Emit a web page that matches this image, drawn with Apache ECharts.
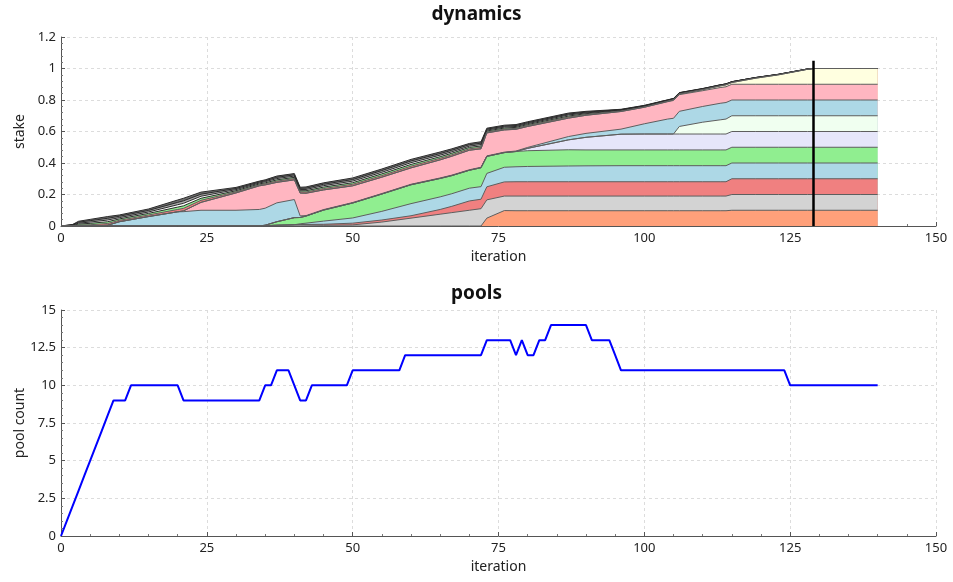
<!DOCTYPE html>
<html>
<head>
<meta charset="utf-8">
<title>dynamics / pools</title>
<script src="https://cdn.jsdelivr.net/npm/echarts@6/dist/echarts.min.js"></script>
<style>
  html, body { margin: 0; padding: 0; background: #fff; }
  #chart { width: 953px; height: 582px; }
</style>
</head>
<body>
<div id="chart"></div>
<script>
// sampled iterations for the stacked stake plot (all layers share them)
const iterations = [0, 2, 3, 5, 8, 10, 15, 20, 21, 24, 30, 34, 35, 37, 40, 41, 42, 45, 50, 55,
  60, 65, 67, 70, 72, 73, 76, 78, 80, 87, 90, 96, 100, 104, 105, 106, 110, 113, 114, 115,
  119, 123, 128, 129, 137, 138, 140];

// stake per pool, bottom of the stack first
const salmonPool = [0,0,0,0,0,0,0,0,0,0, 0,0,0,0,0,0,0,0,0,0, 0,0,0,0,0,0.05,0.098,0.097,0.097,0.097,
  0.097,0.097,0.097,0.097,0.097,0.097,0.097,0.097,0.097,0.1, 0.1,0.1,0.1,0.1,0.1,0.1,0.1];
const grayPool = [0,0,0,0,0,0,0,0,0,0, 0,0,0.002,0.005,0.008,0.008,0.007,0.005,0.007,0.025,
  0.05,0.075,0.085,0.1,0.11,0.116,0.092,0.093,0.093,0.093, 0.093,0.093,0.093,0.093,0.093,0.093,0.093,0.093,0.093,0.1,
  0.1,0.1,0.1,0.1,0.1,0.1,0.1];
const coralPool = [0,0,0,0,0,0,0,0,0,0, 0,0,0,0,0,0.001,0.003,0.006,0.011,0.013,
  0.015,0.03,0.04,0.059,0.06,0.083,0.09,0.091,0.091,0.091, 0.091,0.091,0.091,0.091,0.091,0.091,0.091,0.091,0.091,0.1,
  0.1,0.1,0.1,0.1,0.1,0.1,0.1];
const bluePoolB = [0,0,0,0,0,0,0,0,0,0, 0,0,0,0,0,0.005,0.008,0.02,0.033,0.055,
  0.077,0.08,0.08,0.081,0.08,0.085,0.093,0.095,0.097,0.1, 0.101,0.102,0.102,0.102,0.102,0.102,0.102,0.102,0.102,0.1,
  0.1,0.1,0.1,0.1,0.1,0.1,0.1];
const greenPool = [0,0,0,0,0,0,0,0,0,0, 0,0,0.003,0.022,0.045,0.04,0.045,0.07,0.095,0.11,
  0.12,0.117,0.115,0.114,0.12,0.108,0.093,0.097,0.1,0.103, 0.101,0.1,0.1,0.1,0.1,0.1,0.1,0.1,0.1,0.1,
  0.1,0.1,0.1,0.1,0.1,0.1,0.1];
const lavenderPool = [0,0,0,0,0,0,0,0,0,0, 0,0,0,0,0,0,0,0,0,0,
  0,0,0,0,0,0,0,0,0.015,0.063, 0.08,0.1,0.101,0.101,0.101,0.101,0.101,0.101,0.101,0.1,
  0.1,0.1,0.1,0.1,0.1,0.1,0.1];
const honeydewPool = [0,0,0,0,0,0,0,0,0,0, 0,0,0,0,0,0,0,0,0,0,
  0,0,0,0,0,0,0,0,0,0, 0,0,0,0,0,0.048,0.075,0.09,0.095,0.1,
  0.1,0.1,0.1,0.1,0.1,0.1,0.1];
const bluePoolA = [0,0,0,0,0.005,0.027,0.06,0.09,0.091,0.1, 0.1,0.105,0.108,0.12,0.115,0.01,0.003,0.003,0.003,0.003,
  0.003,0.003,0.003,0.003,0.003,0.003,0.003,0.003,0.006,0.021, 0.025,0.032,0.065,0.095,0.1,0.096,0.1,0.105,0.105,0.1,
  0.1,0.1,0.1,0.1,0.1,0.1,0.1];
const pinkPool = [0,0,0,0,0,0,0,0,0.005,0.05, 0.11,0.15,0.148,0.13,0.125,0.145,0.142,0.125,0.106,0.104,
  0.104,0.115,0.12,0.124,0.117,0.146,0.141,0.138,0.133,0.117, 0.115,0.112,0.105,0.11,0.113,0.106,0.1,0.1,0.1,0.1,
  0.1,0.1,0.1,0.1,0.1,0.1,0.1];
const yellowPool = [0,0,0,0,0,0,0,0,0,0, 0,0,0,0,0,0,0,0,0,0,
  0,0,0,0,0,0,0,0,0,0, 0,0,0,0.002,0.003,0.003,0.006,0.01,0.012,0.011,
  0.038,0.06,0.095,0.1,0.1,0.1,0.1];
// small short-lived pools forming the dark fringe on top
const fringeA = [0,0.002,0.006,0.008,0.011,0.009,0.01,0.015,0.016,0.013, 0.007,0.006,0.007,0.008,0.008,0.008,0.008,0.009,0.01,0.01,
  0.011,0.01,0.009,0.009,0.009,0.006,0.006,0.006,0.006,0.007, 0.005,0.003,0.002,0.002,0.002,0.002,0.001,0.001,0.001,0,
  0,0,0,0,0,0,0];
const fringeB = [0,0.002,0.006,0.009,0.011,0.009,0.01,0.015,0.016,0.013, 0.007,0.006,0.006,0.008,0.008,0.007,0.008,0.009,0.01,0.011,
  0.011,0.01,0.01,0.009,0.009,0.006,0.006,0.006,0.006,0.006, 0.005,0.004,0.004,0.004,0.004,0.004,0.004,0.004,0.004,0.004,
  0.004,0.003,0.002,0,0,0,0];
const fringeC = [0,0.002,0.006,0.008,0.011,0.008,0.009,0.015,0.016,0.013, 0.007,0.006,0.007,0.008,0.008,0.008,0.008,0.009,0.01,0.01,
  0.011,0.01,0.009,0.008,0.009,0.006,0.006,0.006,0.006,0.007, 0.005,0.003,0.002,0.002,0.002,0.002,0.001,0.001,0.001,0.001,
  0,0,0,0,0,0,0];
const fringeD = [0,0.002,0.006,0.009,0.011,0.009,0.01,0.015,0.016,0.013, 0.007,0.006,0.006,0.008,0.008,0.007,0.008,0.009,0.01,0.011,
  0.011,0.01,0.01,0.009,0.009,0.006,0.006,0.006,0.006,0.006, 0.005,0.002,0.002,0.001,0.001,0.001,0.001,0.001,0,0,
  0,0,0,0,0,0,0];
const fringeE = [0,0.002,0.006,0.008,0.011,0.008,0.009,0.015,0.016,0.013, 0.007,0.006,0.006,0.008,0.008,0.007,0.008,0.009,0.01,0.01,
  0.01,0.01,0.009,0.008,0.009,0.006,0.006,0.006,0.006,0.006, 0.005,0.002,0.002,0.001,0.001,0.001,0.001,0,0,0,
  0,0,0,0,0,0,0];

// equilibrium marker
const markerIter = [129, 129];
const markerStake = [0, 1.05];

// pool count per iteration 0..140
const poolCounts = [0,1,2,3,4,5,6,7,8,9, 9,9,10,10,10,10,10,10,10,10,
  10,9,9,9,9,9,9,9,9,9, 9,9,9,9,9,10,10,11,11,11,
  10,9,9,10,10,10,10,10,10,10, 11,11,11,11,11,11,11,11,11,12,
  12,12,12,12,12,12,12,12,12,12, 12,12,12,13,13,13,13,13,12,13,
  12,12,13,13,14,14,14,14,14,14, 14,13,13,13,13,12,11,11,11,11,
  11,11,11,11,11,11,11,11,11,11, 11,11,11,11,11,11,11,11,11,11,
  11,11,11,11,11,10,10,10,10,10, 10,10,10,10,10,10,10,10,10,10, 10];

const xTicks = { min: 0, max: 150, interval: 25 };
const FONT = "'Noto Sans', sans-serif";
const EDGE = '#5e5e5e';
const FRINGE_EDGE = '#2b2b2b';

const layers = [
  { data: salmonPool, color: '#FFA07A', edge: EDGE },
  { data: grayPool, color: '#D3D3D3', edge: EDGE },
  { data: coralPool, color: '#F08080', edge: EDGE },
  { data: bluePoolB, color: '#ADD8E6', edge: EDGE },
  { data: greenPool, color: '#90EE90', edge: EDGE },
  { data: lavenderPool, color: '#E6E6FA', edge: EDGE },
  { data: honeydewPool, color: '#F0FFF0', edge: EDGE },
  { data: bluePoolA, color: '#ADD8E6', edge: EDGE },
  { data: pinkPool, color: '#FFB6C1', edge: EDGE },
  { data: yellowPool, color: '#FFFFE0', edge: EDGE },
  { data: fringeA, color: '#F08080', edge: EDGE },
  { data: fringeB, color: '#90EE90', edge: FRINGE_EDGE },
  { data: fringeC, color: '#FFFFFF', edge: FRINGE_EDGE },
  { data: fringeD, color: '#A9A9A9', edge: FRINGE_EDGE },
  { data: fringeE, color: '#707070', edge: FRINGE_EDGE },
];

// running top of the stack under each layer (stacking by x value on a value axis is unreliable)
const stackTops = [];
layers.reduce((below, layer) => {
  const top = below.map((b, i) => b + layer.data[i]);
  stackTops.push(top);
  return top;
}, iterations.map(() => 0));

function xAxisFor(grid) {
  return {
    gridIndex: grid, type: 'value', min: xTicks.min, max: xTicks.max, interval: xTicks.interval,
    name: 'iteration', nameLocation: 'middle', nameGap: 24,
    nameTextStyle: { fontSize: 14, color: '#222', fontFamily: FONT },
    axisLine: { show: true, onZero: false, lineStyle: { color: '#555' } },
    axisTick: { show: true, inside: true, length: 4, lineStyle: { color: '#555' } },
    minorTick: { show: true, splitNumber: 5, length: 2, lineStyle: { color: '#777' } },
    axisLabel: { fontSize: 13, color: '#222', margin: 6, fontFamily: FONT },
    splitLine: { show: true, lineStyle: { color: '#dcdcdc', type: [3, 3] } },
  };
}

function yAxisFor(grid, name, max, interval) {
  return {
    gridIndex: grid, type: 'value', min: 0, max: max, interval: interval,
    name: name, nameLocation: 'middle', nameGap: 34, nameRotate: 90, nameMoveOverlap: false,
    nameTextStyle: { fontSize: 14, color: '#222', fontFamily: FONT },
    axisLine: { show: true, lineStyle: { color: '#555' } },
    axisTick: { show: true, inside: true, length: 4, lineStyle: { color: '#555' } },
    minorTick: { show: true, splitNumber: 5, length: 2, lineStyle: { color: '#777' } },
    axisLabel: { fontSize: 13, color: '#222', margin: 5, fontFamily: FONT },
    splitLine: { show: true, lineStyle: { color: '#dcdcdc', type: [3, 3] } },
  };
}

// paint the tallest layer first so every lower layer covers it down to zero
const stakeSeries = layers.map((layer, k) => ({
  type: 'line', xAxisIndex: 0, yAxisIndex: 0,
  symbol: 'none', silent: true,
  data: iterations.map((it, i) => [it, stackTops[k][i]]),
  lineStyle: { color: layer.edge, width: 1 },
  itemStyle: { color: layer.color },
  areaStyle: { color: layer.color, opacity: 1, origin: 'start' },
})).reverse();

const chart = echarts.init(document.getElementById('chart'));
chart.setOption({
  animation: false,
  backgroundColor: '#fff',
  textStyle: { fontFamily: FONT },
  title: [
    { text: 'dynamics', left: 'center', top: 5, padding: 0,
      textStyle: { fontSize: 19, fontWeight: 'bold', color: '#111', fontFamily: FONT } },
    { text: 'pools', left: 'center', top: 284, padding: 0,
      textStyle: { fontSize: 19, fontWeight: 'bold', color: '#111', fontFamily: FONT } },
  ],
  grid: [
    { left: 61, right: 17, top: 37, height: 189, outerBoundsMode: 'none', containLabel: false },
    { left: 61, right: 17, top: 310, height: 226, outerBoundsMode: 'none', containLabel: false },
  ],
  xAxis: [xAxisFor(0), xAxisFor(1)],
  yAxis: [yAxisFor(0, 'stake', 1.2, 0.2), yAxisFor(1, 'pool count', 15, 2.5)],
  series: stakeSeries.concat([
    {
      type: 'line', xAxisIndex: 0, yAxisIndex: 0, symbol: 'none', silent: true,
      data: markerIter.map((it, i) => [it, markerStake[i]]),
      lineStyle: { color: '#000', width: 2.5 },
    },
    {
      type: 'line', xAxisIndex: 1, yAxisIndex: 1, symbol: 'none', silent: true,
      data: poolCounts.map((c, i) => [i, c]),
      lineStyle: { color: '#0000FF', width: 2 },
      itemStyle: { color: '#0000FF' },
    },
  ]),
});
</script>
</body>
</html>
